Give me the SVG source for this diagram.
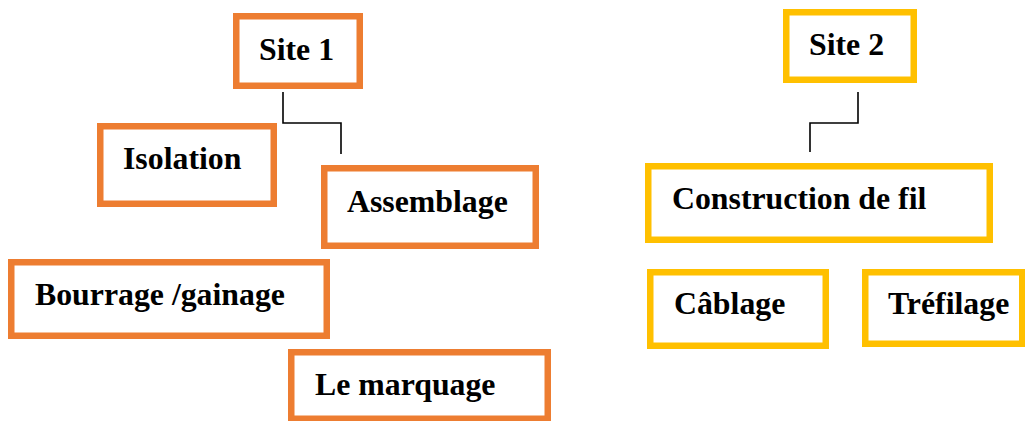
<svg xmlns="http://www.w3.org/2000/svg" width="1025" height="421" viewBox="0 0 1025 421">
<style>
.o{fill:#fff;stroke:#ED7D31;stroke-width:6.5}
.y{fill:#fff;stroke:#FFC000;stroke-width:6.5}
.t{font-family:"Liberation Serif","Times New Roman",serif;font-weight:bold;font-size:31.8px;fill:#000}
.c{fill:none;stroke:#000;stroke-width:1.6}
</style>
<rect width="1025" height="421" fill="#fff"/>
<g id="connectors">
<polyline class="c" points="283,92 283,123 341,123 341,154"/>
<polyline class="c" points="858,92 858,123 810,123 810,152"/>
</g>
<g id="site1"><rect class="o" x="236.25" y="16.25" width="123.5" height="69.5"/><text class="t" x="259" y="60">Site 1</text></g>
<g id="isolation"><rect class="o" x="100.25" y="126.25" width="173.5" height="77.5"/><text class="t" x="123" y="169">Isolation</text></g>
<g id="assemblage"><rect class="o" x="324.25" y="168.25" width="211.5" height="77.5"/><text class="t" x="347" y="212">Assemblage</text></g>
<g id="bourrage"><rect class="o" x="11.25" y="262.25" width="315.5" height="73.5"/><text class="t" x="35" y="305">Bourrage /gainage</text></g>
<g id="marquage"><rect class="o" x="291.25" y="352.25" width="256.5" height="66.5"/><text class="t" x="315" y="395">Le marquage</text></g>
<g id="site2"><rect class="y" x="786.25" y="12.25" width="127.5" height="67.5"/><text class="t" x="809" y="55">Site 2</text></g>
<g id="construction"><rect class="y" x="648.25" y="166.25" width="341.5" height="73.5"/><text class="t" x="672" y="209">Construction de fil</text></g>
<g id="cablage"><rect class="y" x="650.25" y="272.25" width="175.5" height="73.5"/><text class="t" x="674" y="314">Câblage</text></g>
<g id="trefilage"><rect class="y" x="865.25" y="272.25" width="157" height="71.5"/><text class="t" x="888" y="314">Tréfilage</text></g>
</svg>
